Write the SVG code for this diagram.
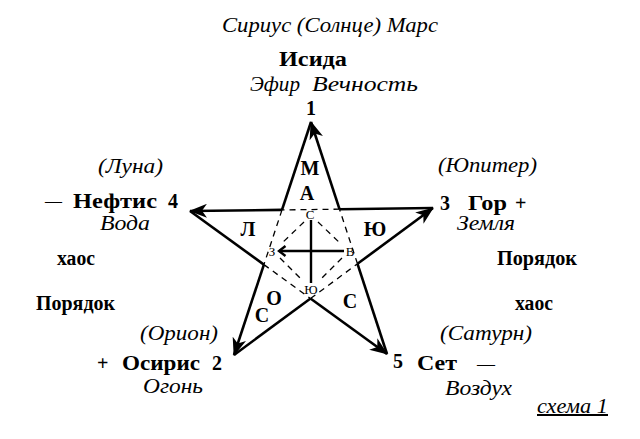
<svg xmlns="http://www.w3.org/2000/svg" width="640" height="439" viewBox="0 0 640 439">
<style>
.t{font-family:"Liberation Serif","DejaVu Serif",serif;font-size:20px;fill:#000}
.b{font-weight:bold}
.i{font-style:italic}
.s{font-size:13px}
.sl{stroke:#000;stroke-width:2.6;fill:none}
.ds{stroke:#000;stroke-width:1.3;stroke-dasharray:6 5;fill:none}
.cr{stroke:#000;stroke-width:2.4;fill:none}
</style>
<defs>
<marker id="ah" viewBox="0 0 18 14" refX="17" refY="7" markerWidth="18" markerHeight="14" orient="auto" markerUnits="userSpaceOnUse">
<path d="M0,0 L18,7 L0,14 L5,7 z" fill="#000"/>
</marker>
</defs>
<rect width="640" height="439" fill="#fff"/>

<g id="connectors">
<line class="sl" x1="311" y1="122" x2="282" y2="209.9"/>
<line class="ds" x1="282" y1="209.9" x2="263.9" y2="264.6"/>
<line class="sl" x1="263.9" y1="264.6" x2="234" y2="355" marker-end="url(#ah)"/>
<line class="sl" x1="234" y1="355" x2="310.5" y2="298.5"/>
<line class="ds" x1="310.5" y1="298.5" x2="357.5" y2="263.8"/>
<line class="sl" x1="357.5" y1="263.8" x2="433" y2="208" marker-end="url(#ah)"/>
<line class="sl" x1="433" y1="208" x2="339.5" y2="209.2"/>
<line class="ds" x1="339.5" y1="209.2" x2="282" y2="209.9"/>
<line class="sl" x1="282" y1="209.9" x2="190" y2="211" marker-end="url(#ah)"/>
<line class="sl" x1="190" y1="211" x2="263.9" y2="264.6"/>
<line class="ds" x1="263.9" y1="264.6" x2="310.5" y2="298.5"/>
<line class="sl" x1="310.5" y1="298.5" x2="387" y2="354" marker-end="url(#ah)"/>
<line class="sl" x1="387" y1="354" x2="357.5" y2="263.8"/>
<line class="ds" x1="357.5" y1="263.8" x2="339.5" y2="209.2"/>
<line class="sl" x1="339.5" y1="209.2" x2="311" y2="122" marker-end="url(#ah)"/>
<line class="ds" x1="304" y1="222" x2="281" y2="244"/>
<line class="ds" x1="318" y1="222" x2="341" y2="244"/>
<line class="ds" x1="280" y1="258" x2="303" y2="281"/>
<line class="ds" x1="342" y1="258" x2="319" y2="281"/>
<line class="cr" x1="311" y1="220" x2="311" y2="283"/>
<line class="cr" x1="279" y1="251" x2="344" y2="251"/>
<path class="cr" d="M285.5,246 L279,251 L285.5,256" stroke-width="1.8"/>
</g>

<g id="inner-labels">
<text class="t b" x="310" y="175" text-anchor="middle">М</text>
<text class="t b" x="307" y="200" text-anchor="middle">А</text>
<text class="t b" x="248" y="236" text-anchor="middle">Л</text>
<text class="t b" x="375" y="236" text-anchor="middle">Ю</text>
<text class="t b" x="274" y="305" text-anchor="middle">О</text>
<text class="t b" x="262" y="322" text-anchor="middle">С</text>
<text class="t b" x="350" y="308" text-anchor="middle">С</text>
<text class="t s" x="310" y="219" text-anchor="middle">С</text>
<text class="t s" x="272" y="256" text-anchor="middle">З</text>
<text class="t s" x="350" y="256" text-anchor="middle">В</text>
<text class="t s" x="311" y="294" text-anchor="middle">Ю</text>
</g>

<g id="node1">
<text class="t i" x="222" y="32" textLength="216" lengthAdjust="spacingAndGlyphs">Сириус (Солнце) Марс</text>
<text class="t b" x="279" y="66" textLength="68" lengthAdjust="spacingAndGlyphs">Исида</text>
<text class="t i" y="91"><tspan x="250" textLength="50" lengthAdjust="spacingAndGlyphs">Эфир</tspan><tspan x="312" textLength="106" lengthAdjust="spacingAndGlyphs">Вечность</tspan></text>
<text class="t b" x="311" y="115" text-anchor="middle">1</text>
</g>

<g id="node4">
<text class="t i" x="98" y="173" textLength="65" lengthAdjust="spacingAndGlyphs">(Луна)</text>
<text class="t" x="45" y="208" textLength="17" lengthAdjust="spacingAndGlyphs">—</text>
<text class="t b" x="73" y="208" textLength="84" lengthAdjust="spacingAndGlyphs">Нефтис</text>
<text class="t b" x="168" y="208">4</text>
<text class="t i" x="100" y="230" textLength="50" lengthAdjust="spacingAndGlyphs">Вода</text>
<text class="t b" x="57" y="265" textLength="38" lengthAdjust="spacingAndGlyphs">хаос</text>
<text class="t b" x="36" y="310" textLength="79" lengthAdjust="spacingAndGlyphs">Порядок</text>
</g>

<g id="node2">
<text class="t i" x="140" y="340" textLength="78" lengthAdjust="spacingAndGlyphs">(Орион)</text>
<text class="t b" x="97" y="370">+</text>
<text class="t b" x="122" y="370" textLength="78" lengthAdjust="spacingAndGlyphs">Осирис</text>
<text class="t b" x="212" y="370">2</text>
<text class="t i" x="143" y="393" textLength="60" lengthAdjust="spacingAndGlyphs">Огонь</text>
</g>

<g id="node3">
<text class="t i" x="438" y="172" textLength="99" lengthAdjust="spacingAndGlyphs">(Юпитер)</text>
<text class="t b" x="440" y="210">3</text>
<text class="t b" x="468" y="210" textLength="39" lengthAdjust="spacingAndGlyphs">Гор</text>
<text class="t b" x="515" y="210">+</text>
<text class="t i" x="457" y="230" textLength="58" lengthAdjust="spacingAndGlyphs">Земля</text>
<text class="t b" x="497" y="265" textLength="80" lengthAdjust="spacingAndGlyphs">Порядок</text>
<text class="t b" x="515" y="310" textLength="38" lengthAdjust="spacingAndGlyphs">хаос</text>
</g>

<g id="node5">
<text class="t i" x="440" y="340" textLength="92" lengthAdjust="spacingAndGlyphs">(Сатурн)</text>
<text class="t b" x="393" y="368">5</text>
<text class="t b" x="417" y="370" textLength="40" lengthAdjust="spacingAndGlyphs">Сет</text>
<text class="t" x="477" y="371" textLength="18" lengthAdjust="spacingAndGlyphs">—</text>
<text class="t i" x="445" y="395" textLength="67" lengthAdjust="spacingAndGlyphs">Воздух</text>
</g>

<g id="caption">
<text class="t i" x="537" y="413" textLength="71" lengthAdjust="spacingAndGlyphs" text-decoration="underline">схема 1</text>
</g>
</svg>
